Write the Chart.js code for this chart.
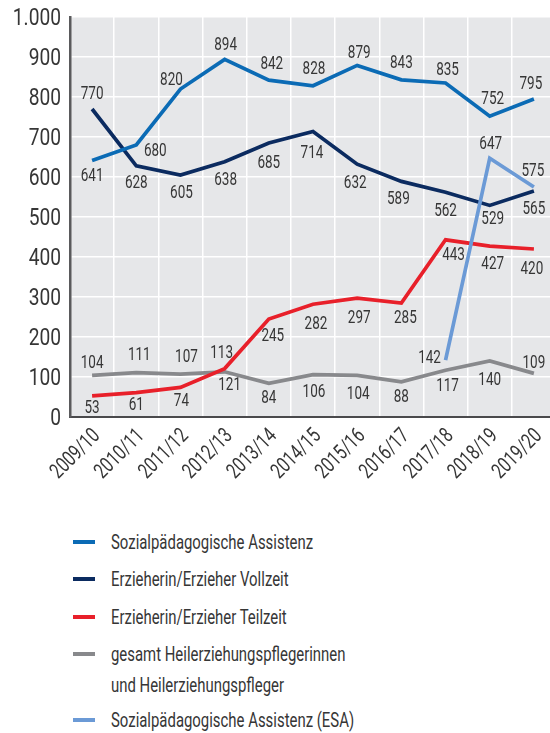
<!DOCTYPE html>
<html>
<head>
<meta charset="utf-8">
<script src="https://cdn.jsdelivr.net/npm/chart.js@4/dist/chart.umd.min.js"></script>
<style>
  html, body { margin: 0; padding: 0; background: #fff; }
  body { width: 550px; height: 733px; overflow: hidden; position: relative; font-family: Roboto, sans-serif; }
  #wrap { position: absolute; left: 0; top: 0; width: 556px; height: 500px; }
  #legend { position: absolute; left: 0; top: 0; width: 550px; }
  .sw { position: absolute; left: 73px; width: 22px; height: 4px; }
  .tx { position: absolute; left: 111px; font-size: 21px; line-height: 31px; color: #363636; white-space: nowrap; transform: scaleX(0.71); transform-origin: 0 0; }
</style>
</head>
<body>
<div id="wrap"><canvas id="c" width="556" height="500"></canvas></div>
<div id="legend"></div>
<script>
// ---- data ----
const categories = ['2009/10','2010/11','2011/12','2012/13','2013/14','2014/15','2015/16','2016/17','2017/18','2018/19','2019/20'];
const seriesNames = [
  'Sozialpädagogische Assistenz',
  'Erzieherin/Erzieher Vollzeit',
  'Erzieherin/Erzieher Teilzeit',
  'gesamt Heilerziehungspflegerinnen\nund Heilerziehungspfleger',
  'Sozialpädagogische Assistenz (ESA)'
];
const sozialAssistenz = [641, 680, 820, 894, 842, 828, 879, 843, 835, 752, 795];
const erzieherVollzeit = [770, 628, 605, 638, 685, 714, 632, 589, 562, 529, 565];
const erzieherTeilzeit = [53, 61, 74, 121, 245, 282, 297, 285, 443, 427, 420];
const heilerziehung = [104, 111, 107, 113, 84, 106, 104, 88, 117, 140, 109];
const sozialAssistenzESA = [null, null, null, null, null, null, null, null, 142, 647, 575];
const yTickLabels = ['0','100','200','300','400','500','600','700','800','900','1.000'];

// ---- styles ----
const colors = ['#0b6bb5', '#0b2b60', '#e8202a', '#88898c', '#6b9ad6'];
// label offsets [dx, dy] relative to each point
const labelOffsets = [
  [[0,15],[19,5],[-9,-10],[1,-15],[3,-17],[1,-17],[2,-13],[0,-17],[2,-14],[3,-18],[-3,-16]],
  [[0,-16],[0,17],[1,17],[1,18],[0,19],[-1,21],[-2,18],[-3,17],[0,18],[3,13],[0,17]],
  [[0,12],[0,12],[1,13],[5,16],[4,16],[3,19],[2,19],[4,14],[8,15],[3,17],[-2,19]],
  [[0,-13],[3,-18],[6,-18],[-3,-19],[0,14],[1,17],[1,18],[0,15],[2,15],[0,18],[0,-11]],
  [null,null,null,null,null,null,null,null,[-16,-3],[1,-15],[-1,-17]]
];
const textColor = '#363636';
const fontFamily = 'Roboto, sans-serif';
const labelFont = { size: 18.5, sx: 0.73 };
const yTickFont = { size: 24, sx: 0.8 };
const xTickFont = { size: 21.5, sx: 0.74 };

const allSeries = [sozialAssistenz, erzieherVollzeit, erzieherTeilzeit, heilerziehung, sozialAssistenzESA];

function drawScaled(ctx, txt, x, y, sx, rot) {
  ctx.save();
  ctx.translate(x, y);
  if (rot) ctx.rotate(rot);
  ctx.scale(sx, 1);
  ctx.fillText(txt, 0, 0);
  ctx.restore();
}

const bgPlugin = {
  id: 'bg',
  beforeDraw(chart) {
    const {ctx, chartArea: a} = chart;
    ctx.save();
    ctx.fillStyle = '#e6e7e9';
    ctx.fillRect(a.left, a.top, a.right - a.left, a.bottom - a.top);
    ctx.restore();
  }
};

const tickPlugin = {
  id: 'condensedTicks',
  afterDraw(chart) {
    const ctx = chart.ctx;
    const ys = chart.scales.y, xs = chart.scales.x;
    ctx.save();
    ctx.fillStyle = textColor;
    ctx.font = yTickFont.size + 'px ' + fontFamily;
    ctx.textAlign = 'right';
    ctx.textBaseline = 'middle';
    ys.ticks.forEach((t) => {
      const y = ys.getPixelForValue(t.value);
      drawScaled(ctx, yTickLabels[Math.round(t.value / 100)], ys.right - 9, y + 1.5, yTickFont.sx);
    });
    ctx.font = xTickFont.size + 'px ' + fontFamily;
    ctx.textAlign = 'right';
    ctx.textBaseline = 'middle';
    categories.forEach((c, i) => {
      const x = xs.getPixelForTick(i);
      drawScaled(ctx, c, x + 5, xs.top + 16, xTickFont.sx, -Math.PI / 4);
    });
    ctx.restore();
  }
};

const labelPlugin = {
  id: 'vlabels',
  afterDatasetsDraw(chart) {
    const ctx = chart.ctx;
    ctx.save();
    ctx.font = labelFont.size + 'px ' + fontFamily;
    ctx.fillStyle = textColor;
    ctx.textAlign = 'center';
    ctx.textBaseline = 'middle';
    chart.data.datasets.forEach((ds, i) => {
      const meta = chart.getDatasetMeta(i);
      meta.data.forEach((pt, j) => {
        const v = ds.data[j];
        if (v === null || v === undefined) return;
        const off = labelOffsets[i][j] || [0, -15];
        drawScaled(ctx, String(v), pt.x + off[0], pt.y + off[1] + 1, labelFont.sx);
      });
    });
    ctx.restore();
  }
};

const datasets = allSeries.map((d, i) => ({
  label: seriesNames[i],
  data: d,
  borderColor: colors[i],
  backgroundColor: colors[i],
  borderWidth: 3.7,
  pointRadius: 0,
  tension: 0,
  fill: false,
  spanGaps: false,
  order: i === 4 ? -1 : i
}));

new Chart(document.getElementById('c'), {
  type: 'line',
  data: { labels: categories, datasets },
  options: {
    responsive: false,
    animation: false,
    devicePixelRatio: 1,
    layout: { padding: { top: 17, left: 0, right: 0, bottom: 0 } },
    plugins: { legend: { display: false }, tooltip: { enabled: false } },
    scales: {
      x: {
        offset: true,
        grid: { offset: true, color: '#ffffff', lineWidth: 1.5, drawTicks: false },
        border: { display: true, color: '#4a4a4c', width: 2 },
        ticks: { display: false, autoSkip: false },
        afterFit(s) { s.height = 83; }
      },
      y: {
        min: 0, max: 1000,
        grid: { color: '#ffffff', lineWidth: 1.5, drawTicks: false },
        border: { display: true, color: '#5a5a5c', width: 2.5 },
        ticks: { display: false, stepSize: 100 },
        afterFit(s) { s.width = 70; }
      }
    }
  },
  plugins: [bgPlugin, labelPlugin, tickPlugin]
});

// ---- HTML legend ----
const legendTops = [542, 579, 617, 654, 720];
const legend = document.getElementById('legend');
seriesNames.forEach((name, i) => {
  const sw = document.createElement('div');
  sw.className = 'sw';
  sw.style.top = (legendTops[i] - 2) + 'px';
  sw.style.background = colors[i];
  legend.appendChild(sw);
  name.split('\n').forEach((ln, k) => {
    const t = document.createElement('div');
    t.className = 'tx';
    t.style.top = (legendTops[i] - 15 + k * 31) + 'px';
    t.textContent = ln;
    legend.appendChild(t);
  });
});
</script>
</body>
</html>
